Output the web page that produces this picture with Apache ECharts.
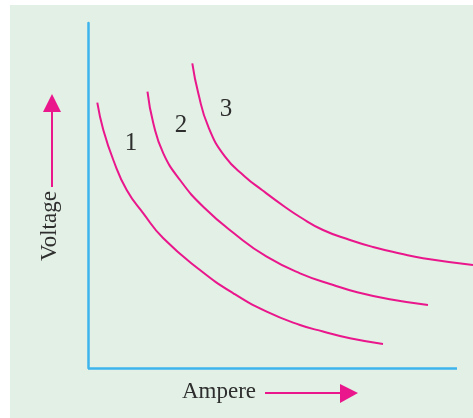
<!DOCTYPE html>
<html>
<head>
<meta charset="utf-8">
<script src="https://cdn.jsdelivr.net/npm/echarts@6/dist/echarts.min.js"></script>
<style>
	html, body { margin: 0; padding: 0; background: #ffffff; }
	#main { width: 473px; height: 418px; }
</style>
</head>
<body>
<div id="main"></div>
<script>
// curve data (no units on the original, axes drawn 0..100)
var curve1 = [[2.52, 76.90], [4.15, 68.99], [6.86, 60.29], [10.49, 51.59], [14.99, 44.84], [20.41, 37.59], [30.35, 28.41], [39.38, 21.65], [48.43, 16.32], [57.45, 12.46], [63.69, 10.58], [71.00, 8.61], [79.95, 6.96]];
var curve2 = [[16.12, 80.09], [17.70, 70.93], [20.41, 62.23], [24.93, 54.49], [31.30, 46.67], [40.30, 38.41], [48.43, 32.26], [57.45, 27.45], [66.48, 24.06], [72.71, 22.03], [81.76, 19.91], [92.14, 18.26]];
var curve3 = [[28.27, 88.32], [29.89, 79.62], [32.60, 69.94], [37.13, 61.25], [42.55, 55.45], [47.15, 51.59], [53.39, 46.67], [57.45, 43.77], [63.69, 40.00], [71.00, 37.10], [77.24, 35.07], [84.55, 33.19], [90.79, 31.80], [104.34, 29.86]];
var curveNames = ['1', '2', '3'];
var xAxisEnd = 100;   // where the drawn x axis line stops
var xViewMax = 104.34; // curve 3 runs past the axis end

var pink = '#ea168b';
var blue = '#3db4ec';
var serif = '"Liberation Serif", "DejaVu Serif", serif';

var myChart = echarts.init(document.getElementById('main'));

function curveSeries(name, data) {
	return {
		name: name,
		type: 'line',
		data: data,
		smooth: true,
		symbol: 'none',
		z: 3,
		lineStyle: {
			color: pink,
			width: 2
		}
	};
}

var series = [
	curveSeries(curveNames[0], curve1),
	curveSeries(curveNames[1], curve2),
	curveSeries(curveNames[2], curve3)
];

// x axis line is shorter than the plot, so draw it as a mark line
series[0].markLine = {
	silent: true,
	symbol: 'none',
	label: { show: false },
	lineStyle: { color: blue, width: 2.5, type: 'solid' },
	data: [[{ coord: [0, 0] }, { coord: [xAxisEnd, 0] }]]
};

var option = {
	animation: false,
	backgroundColor: '#ffffff',
	grid: {
		left: 88,
		top: 23,
		right: 0,
		bottom: 50
	},
	xAxis: {
		type: 'value',
		min: 0,
		max: xViewMax,
		axisLine: { show: false },
		axisTick: { show: false },
		axisLabel: { show: false },
		splitLine: { show: false }
	},
	yAxis: {
		type: 'value',
		min: 0,
		max: 100,
		axisLine: {
			show: true,
			lineStyle: { color: blue, width: 2.5 }
		},
		axisTick: { show: false },
		axisLabel: { show: false },
		splitLine: { show: false }
	},
	graphic: [
		// green panel behind the plot
		{
			type: 'rect',
			z: -10,
			silent: true,
			shape: { x: 10, y: 5, width: 463, height: 413 },
			style: { fill: '#e2f0e6' }
		},
		// curve numbers
		{ type: 'text', x: 131, y: 143, style: { text: curveNames[0], font: '25px ' + serif, fill: '#2e2e2e', align: 'center', verticalAlign: 'middle' } },
		{ type: 'text', x: 181, y: 125, style: { text: curveNames[1], font: '25px ' + serif, fill: '#2e2e2e', align: 'center', verticalAlign: 'middle' } },
		{ type: 'text', x: 226, y: 109, style: { text: curveNames[2], font: '25px ' + serif, fill: '#2e2e2e', align: 'center', verticalAlign: 'middle' } },
		// y axis title with arrow
		{
			type: 'text',
			x: 50,
			y: 226,
			rotation: Math.PI / 2,
			style: {
				text: 'Voltage',
				font: '23px ' + serif,
				fill: '#2e2e2e',
				align: 'center',
				verticalAlign: 'middle'
			}
		},
		{
			type: 'line',
			shape: { x1: 52, y1: 187, x2: 52, y2: 108 },
			style: { stroke: pink, lineWidth: 2 }
		},
		{
			type: 'polygon',
			shape: { points: [[52, 94], [43, 112], [61, 112]] },
			style: { fill: pink }
		},
		// x axis title with arrow
		{
			type: 'text',
			x: 219,
			y: 392,
			style: {
				text: 'Ampere',
				font: '23px ' + serif,
				fill: '#2e2e2e',
				align: 'center',
				verticalAlign: 'middle'
			}
		},
		{
			type: 'line',
			shape: { x1: 265, y1: 393, x2: 345, y2: 393 },
			style: { stroke: pink, lineWidth: 2 }
		},
		{
			type: 'polygon',
			shape: { points: [[358, 393], [340, 384], [340, 403]] },
			style: { fill: pink }
		}
	],
	series: series
};

myChart.setOption(option);
</script>
</body>
</html>
